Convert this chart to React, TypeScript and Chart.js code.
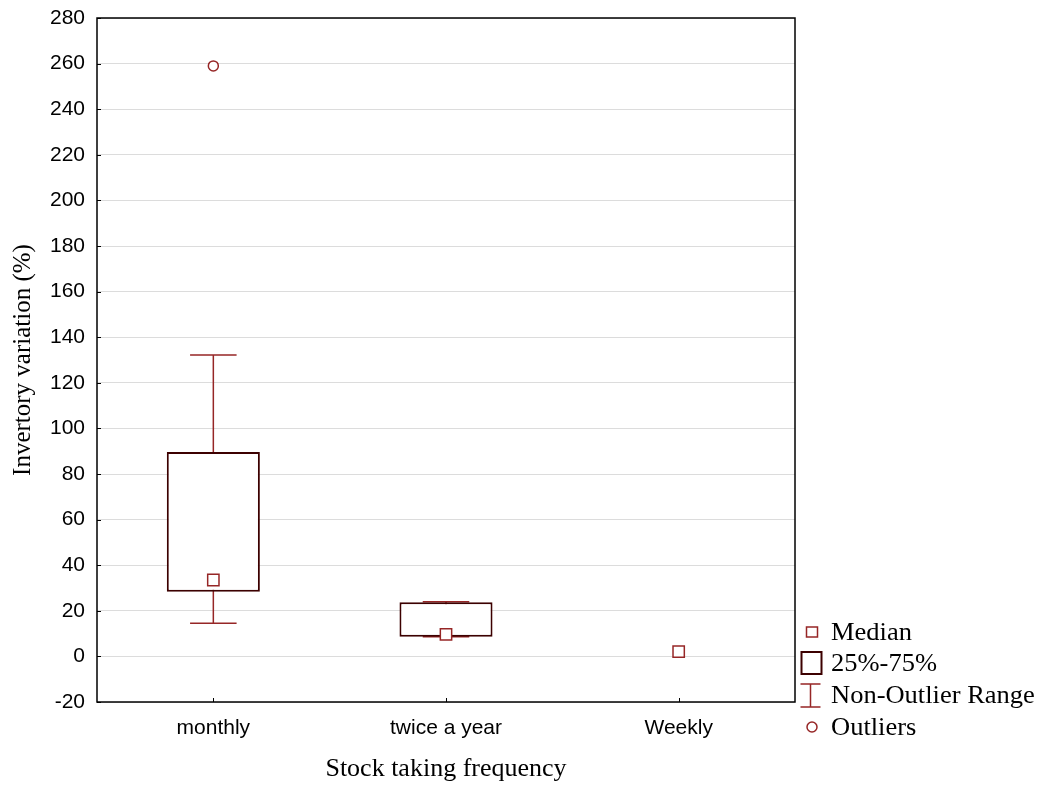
import React, { useEffect, useRef } from "react";
import { Chart, registerables } from "chart.js";

Chart.register(...registerables);

const categories = ["monthly", "twice a year", "Weekly"];
const boxLow: (number | null)[] = [28.4, 8.6, null];
const boxHigh: (number | null)[] = [89.6, 23.7, null];
const medians = [33.5, 9.7, 2.1];
const whiskerLow: (number | null)[] = [14.5, 8.6, null];
const whiskerHigh: (number | null)[] = [132.2, 24.0, null];
const outliers: (number | null)[] = [259, null, null];
const legendLabels = ["Median", "25%-75%", "Non-Outlier Range", "Outliers"];

const RED = "#962626";
const DARK = "#3c0000";
const SANS = 'Arial, "Liberation Sans", sans-serif';
const SERIF = '"Times New Roman", "Liberation Serif", serif';

const framePlugin = {
  id: "frameAndWhiskers",
  beforeDatasetsDraw(chart: any) {
    const { ctx, scales } = chart;
    const x = scales.x;
    const y = scales.y;
    ctx.save();
    ctx.strokeStyle = RED;
    ctx.lineWidth = 1.5;
    for (let i = 0; i < categories.length; i++) {
      const lo = whiskerLow[i];
      const hi = whiskerHigh[i];
      if (lo == null || hi == null) continue;
      const cx = x.getPixelForValue(i);
      const step = x.getPixelForValue(1) - x.getPixelForValue(0);
      const capHalf = step * 0.1;
      const yl = y.getPixelForValue(lo);
      const yh = y.getPixelForValue(hi);
      ctx.beginPath();
      ctx.moveTo(cx, yl);
      ctx.lineTo(cx, yh);
      ctx.moveTo(cx - capHalf, yl);
      ctx.lineTo(cx + capHalf, yl);
      ctx.moveTo(cx - capHalf, yh);
      ctx.lineTo(cx + capHalf, yh);
      ctx.stroke();
    }
    ctx.restore();
  },
  afterDraw(chart: any) {
    const { ctx, chartArea, scales } = chart;
    const { left, right, top, bottom } = chartArea;
    ctx.save();
    ctx.strokeStyle = "#000";
    ctx.lineWidth = 1.5;
    ctx.strokeRect(left, top, right - left, bottom - top);
    ctx.lineWidth = 1;
    ctx.beginPath();
    scales.y.ticks.forEach((t: any) => {
      const py = Math.round(scales.y.getPixelForValue(t.value)) + 0.5;
      ctx.moveTo(left, py);
      ctx.lineTo(left + 4, py);
    });
    for (let i = 0; i < categories.length; i++) {
      const px = Math.round(scales.x.getPixelForValue(i)) + 0.5;
      ctx.moveTo(px, bottom);
      ctx.lineTo(px, bottom - 4);
    }
    ctx.stroke();

    // legend
    const ix = 812;
    const tx = 831;
    const rows = [632, 663, 695, 727];
    ctx.font = `25px ${SERIF}`;
    ctx.fillStyle = "#000";
    ctx.textBaseline = "middle";
    ctx.textAlign = "left";
    legendLabels.forEach((lab, i) => {
      ctx.save();
      ctx.translate(tx, rows[i] + 1);
      ctx.scale(1.06, 1);
      ctx.fillText(lab, 0, 0);
      ctx.restore();
    });
    // median square
    ctx.strokeStyle = RED;
    ctx.lineWidth = 1.5;
    ctx.strokeRect(ix - 5.5, rows[0] - 5, 11, 10);
    // box
    ctx.strokeStyle = DARK;
    ctx.lineWidth = 2;
    ctx.strokeRect(ix - 10.5, rows[1] - 11, 20, 22);
    // whisker
    ctx.strokeStyle = RED;
    ctx.lineWidth = 1.5;
    ctx.beginPath();
    ctx.moveTo(ix - 1.5, rows[2] - 11);
    ctx.lineTo(ix - 1.5, rows[2] + 12);
    ctx.moveTo(ix - 11.5, rows[2] - 11);
    ctx.lineTo(ix + 8.5, rows[2] - 11);
    ctx.moveTo(ix - 11.5, rows[2] + 12);
    ctx.lineTo(ix + 8.5, rows[2] + 12);
    ctx.stroke();
    // outlier circle
    ctx.beginPath();
    ctx.arc(ix, rows[3], 5, 0, Math.PI * 2);
    ctx.stroke();
    ctx.restore();
  },
};

export default function App() {
  const ref = useRef<HTMLCanvasElement | null>(null);
  useEffect(() => {
    if (!ref.current) return;
    const boxes = categories.map((_, i) =>
      boxLow[i] == null || boxHigh[i] == null ? null : [boxLow[i], boxHigh[i]]
    );
    const chart = new Chart(ref.current, {
      type: "bar",
      data: {
        labels: categories,
        datasets: [
          {
            type: "line",
            label: "Outliers",
            data: outliers as any,
            showLine: false,
            pointStyle: "circle",
            pointRadius: 5,
            pointBorderWidth: 1.5,
            pointBorderColor: RED,
            pointBackgroundColor: "#fff",
            order: 0,
          } as any,
          {
            type: "line",
            label: "Median",
            data: medians,
            showLine: false,
            pointStyle: "rect",
            pointRadius: 8,
            pointBorderWidth: 1.5,
            pointBorderColor: RED,
            pointBackgroundColor: "#fff",
            order: 1,
          } as any,
          {
            type: "bar",
            label: "25%-75%",
            data: boxes as any,
            backgroundColor: "#fff",
            borderColor: DARK,
            borderWidth: 2,
            borderSkipped: false,
            categoryPercentage: 1,
            barPercentage: 0.4,
            order: 2,
          } as any,
        ],
      },
      options: {
        responsive: false,
        animation: false,
        devicePixelRatio: 1,
        layout: { padding: { top: 18, right: 246, left: 0, bottom: 0 } },
        plugins: { legend: { display: false }, tooltip: { enabled: false } },
        scales: {
          x: {
            type: "category",
            offset: true,
            grid: { display: false, drawTicks: false },
            border: { display: false },
            ticks: { font: { family: SANS, size: 21 }, color: "#000", padding: 14 },
            title: {
              display: true,
              text: "Stock taking frequency",
              font: { family: SERIF, size: 26 },
              color: "#000",
              padding: { top: 4, bottom: 20 },
            },
            afterFit: (s: any) => {
              s.height = 103;
              s.paddingLeft = 0;
              s.paddingRight = 0;
            },
          },
          y: {
            min: -20,
            max: 280,
            grid: { color: "#dcdcdc", drawTicks: false, lineWidth: 1 },
            border: { display: false },
            ticks: { stepSize: 20, font: { family: SANS, size: 21 }, color: "#000", padding: 12 },
            title: {
              display: true,
              text: "Invertory variation (%)",
              font: { family: SERIF, size: 25 },
              color: "#000",
              padding: { top: 8, bottom: 0 },
            },
            afterFit: (s: any) => {
              s.width = 97;
              s.paddingTop = 0;
              s.paddingBottom = 0;
            },
          },
        },
      } as any,
      plugins: [framePlugin],
    });
    return () => chart.destroy();
  }, []);
  return (
    <div style={{ position: "absolute", left: 0, top: 0, width: 1041, height: 805, background: "#fff" }}>
      <canvas ref={ref} width={1041} height={805} style={{ display: "block" }} />
    </div>
  );
}
